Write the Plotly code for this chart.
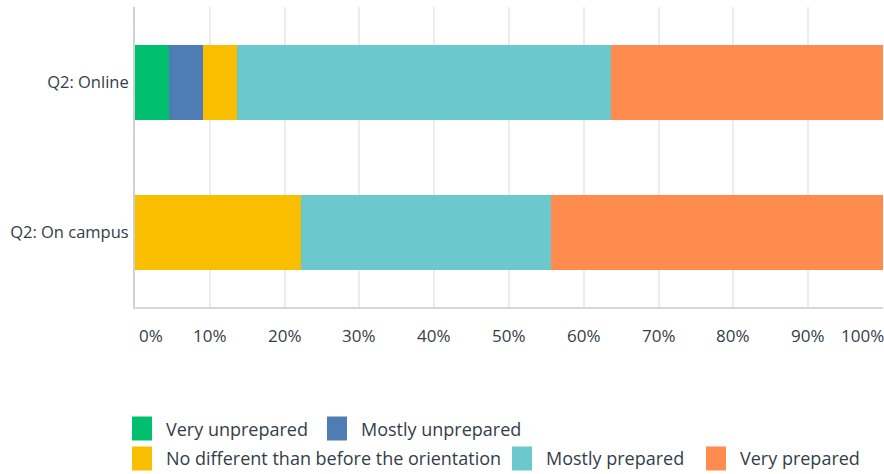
import plotly.graph_objects as go

categories = ["Q2: Online", "Q2: On campus"]
series_names = ["Very unprepared", "Mostly unprepared",
                "No different than before the orientation",
                "Mostly prepared", "Very prepared"]
very_unprepared = [4.55, 0.0]
mostly_unprepared = [4.55, 0.0]
no_different = [4.55, 22.22]
mostly_prepared = [50.0, 33.33]
very_prepared = [36.36, 44.44]
series_values = [very_unprepared, mostly_unprepared, no_different,
                 mostly_prepared, very_prepared]
colors = ["#00bf6f", "#507cb6", "#f9be00", "#6bc8cd", "#ff8b4f"]
tick_vals = [0, 10, 20, 30, 40, 50, 60, 70, 80, 90, 100]
tick_text = ["0%", "10%", "20%", "30%", "40%", "50%", "60%", "70%", "80%", "90%", "100%"]

TEXT = "#333e48"
FONT = "Open Sans, Roboto, sans-serif"

W, H = 884, 474
ML, MR, MT, MB = 135, 1, 7, 167
PW, PH = W - ML - MR, H - MT - MB

def px_x(px):
    return (px - ML) / PW

def px_y(py):
    return (H - MB - py) / PH

fig = go.Figure()
for name, vals, col in zip(series_names, series_values, colors):
    fig.add_trace(go.Bar(
        y=categories, x=vals, name=name, orientation="h",
        marker=dict(color=col, line=dict(width=0)),
        showlegend=False,
    ))

fig.update_layout(
    barmode="stack",
    bargap=0.5,
    width=W, height=H,
    margin=dict(l=ML, r=MR, t=MT, b=MB, autoexpand=False),
    paper_bgcolor="white", plot_bgcolor="white",
    font=dict(family=FONT, size=16, color=TEXT),
    showlegend=False,
)
fig.update_xaxes(
    range=[0, 100], tickvals=tick_vals, showticklabels=False,
    showgrid=True, gridcolor="#ececec", gridwidth=2,
    showline=True, linecolor="#d6d6d6", linewidth=2, mirror=False,
    zeroline=False, ticks="", automargin=False,
)
fig.update_yaxes(
    autorange="reversed", showgrid=False,
    showline=True, linecolor="#d0d0d0", linewidth=2,
    ticks="", ticklabelstandoff=1, automargin=False,
    tickfont=dict(family=FONT, size=16.5, color=TEXT),
)

# x tick labels (first left-aligned, last right-aligned, others centred)
for i, (v, t) in enumerate(zip(tick_vals, tick_text)):
    anchor = "left" if i == 0 else ("right" if i == len(tick_vals) - 1 else "center")
    fig.add_annotation(x=v, xref="x", y=0, yref="paper", text=t, showarrow=False,
                       xanchor=anchor, yanchor="middle", yshift=-28,
                       xshift=2 if i == 0 else (3 if i == len(tick_vals) - 1 else 0),
                       font=dict(family=FONT, size=17, color=TEXT))

# custom legend: (row, marker left px)
legend_pos = [(0, 133), (0, 328), (1, 133), (1, 513), (1, 707)]
row_y = [428.5, 458.5]
SQ = 22
for (row, left), name, col in zip(legend_pos, series_names, colors):
    cy = row_y[row]
    fig.add_shape(type="rect", xref="paper", yref="paper",
                  x0=px_x(left), x1=px_x(left + SQ - 4),
                  y0=px_y(cy + SQ / 2), y1=px_y(cy - SQ / 2),
                  fillcolor=col, line=dict(color=col, width=2))
    fig.add_annotation(x=px_x(left + 31), xref="paper", y=px_y(cy), yref="paper",
                       text=name, showarrow=False, xanchor="left", yanchor="middle",
                       font=dict(family=FONT, size=18, color=TEXT))

fig.write_html("out.html", config={"displayModeBar": False},
               post_script="document.body.style.margin='0px';")
